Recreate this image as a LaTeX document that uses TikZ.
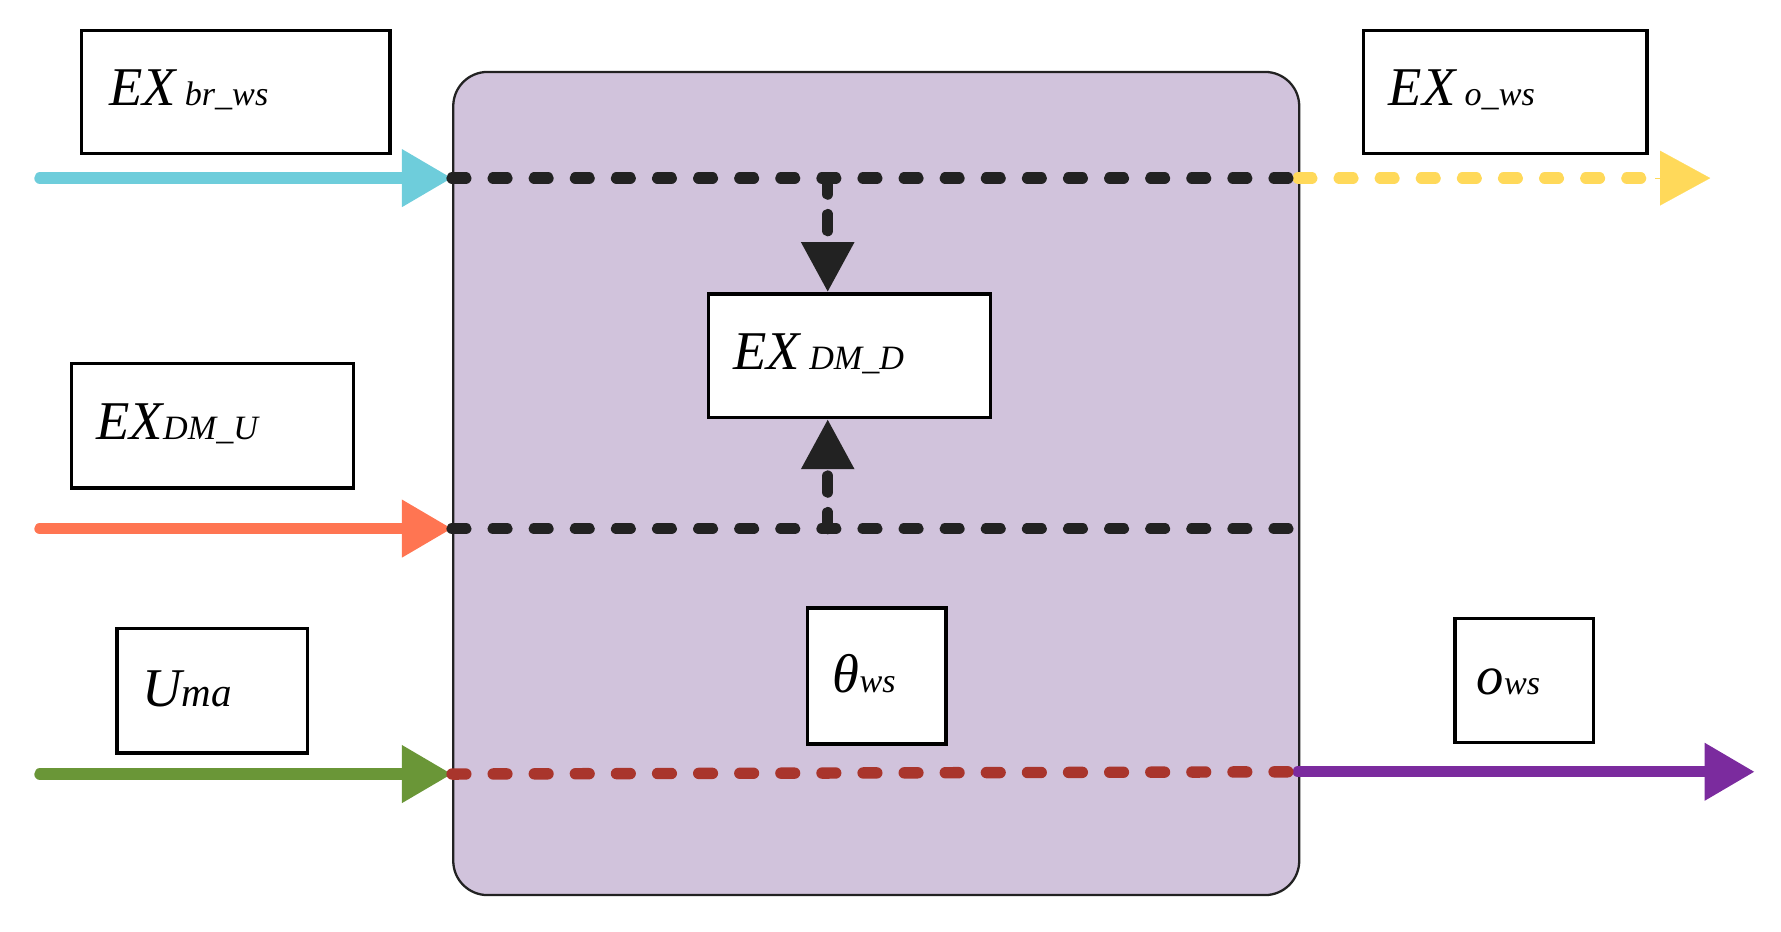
\documentclass[tikz,border=0pt]{standalone}
\usepackage{fontspec}
\setmainfont{Liberation Serif}
\usetikzlibrary{arrows.meta}
\definecolor{bg}{HTML}{D1C3DC}
\definecolor{cy}{HTML}{6ECDDB}
\definecolor{ye}{HTML}{FFD95A}
\definecolor{ora}{HTML}{FF7552}
\definecolor{gr}{HTML}{6A9637}
\definecolor{rd}{HTML}{A9352C}
\definecolor{pu}{HTML}{7B2B9E}
\definecolor{dk}{HTML}{222222}
\begin{document}
\begin{tikzpicture}[x=1bp,y=-1bp,
  box/.style={draw=black,line width=3bp,fill=white,inner sep=0,anchor=north west},
  lab/.style={font=\fontsize{48}{50}\selectfont\itshape},
  ln/.style={line width=10bp,line cap=round},
  dsh/.style={ln,dash pattern=on 12bp off 24bp},
  tip/.style={-{Triangle[length=44bp,width=48bp]}},
  tipb/.style={-{Triangle[length=44bp,width=44bp]}}]
\useasboundingbox (0,0) rectangle (1560,816);
\node[draw=dk,line width=2bp,fill=bg,rounded corners=30bp,minimum width=741bp,minimum height=721bp,anchor=north west,inner sep=0] (main) at (396,62) {};
% boxes
\node[box,minimum width=270bp,minimum height=108bp] (b1) at (70,25) {};
\node[lab,anchor=west] at (92,79) {EX\,{\fontsize{30}{30}\selectfont br\_ws}};
\node[box,minimum width=248bp,minimum height=108bp] (b2) at (1193,25) {};
\node[lab,anchor=west] at (1213,79) {EX\,{\fontsize{30}{30}\selectfont o\_ws}};
\node[box,minimum width=247bp,minimum height=108bp] (b3) at (619,256) {};
\node[lab,anchor=west] at (639,310) {EX\,{\fontsize{30}{30}\selectfont DM\_D}};
\node[box,minimum width=247bp,minimum height=109bp] (b4) at (61,317) {};
\node[lab,anchor=west] at (81,371) {EX{\fontsize{30}{30}\selectfont DM\_U}};
\node[box,minimum width=167bp,minimum height=109bp] (b5) at (101,549) {};
\node[lab,anchor=west] at (121,603) {U{\fontsize{36}{36}\selectfont ma}};
\node[box,minimum width=121bp,minimum height=119bp] (b6) at (706,531) {};
\node[lab,anchor=west] at (726,590) {θ{\fontsize{30}{30}\selectfont ws}};
\node[box,minimum width=121bp,minimum height=109bp] (b7) at (1273,540) {};
\node[lab,anchor=west] at (1290,597) {o{\fontsize{30}{30}\selectfont ws}};
% coordinates
\coordinate (a0) at (35,156); \coordinate (a1) at (396,156); \coordinate (a2) at (1137,156); \coordinate (a3) at (1498,156);
\coordinate (c0) at (35,463); \coordinate (c1) at (396,463); \coordinate (c2) at (1130,463);
\coordinate (d0) at (35,678); \coordinate (d1) at (396,678); \coordinate (d2) at (1137,676); \coordinate (d3) at (1537,676);
\coordinate (v1) at (725,156); \coordinate (v2) at (725,463); \coordinate (y1) at (1450,156);
% connectors
\draw[ln,cy,tip] (a0) -- (a1);
\draw[ln,ora,tip] (c0) -- (c1);
\draw[ln,gr,tip] (d0) -- (d1);
\draw[dsh,ye] (a2) -- (y1);
\draw[ye,line width=0.1bp,fill=ye,tip] (y1) -- (a3);
\draw[ln,pu,tip] (d2) -- (d3);
\draw[dsh,dk] (a1) -- (a2);
\draw[dsh,dk] (c1) -- (c2);
\draw[dsh,rd] (d1) -- (d2);
\draw[dsh,dk,tipb,dash pattern=on 14bp off 18bp] (v1) -- (b3.north -| v1);
\draw[dsh,dk,tipb,dash pattern=on 14bp off 18bp] (v2) -- (b3.south -| v2);
\end{tikzpicture}
\end{document}
